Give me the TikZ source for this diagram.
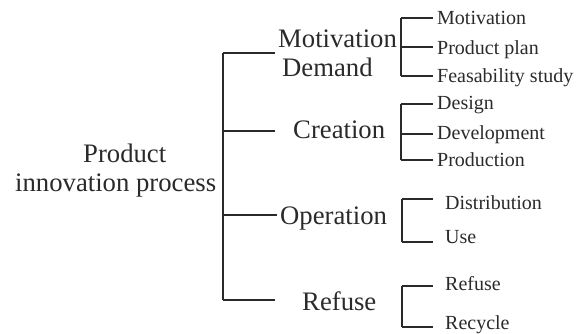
\documentclass[tikz,border=0pt]{standalone}
\usepackage{fontspec}
\setmainfont{Liberation Serif}
\definecolor{ink}{HTML}{2A2A2A}
\tikzset{
	bar/.style={line width=2.2pt,draw=ink},
	subbar/.style={line width=1.9pt,draw=ink},
	big/.style={font=\fontsize{26.7}{29}\selectfont,text=ink,inner sep=0pt},
	small/.style={font=\fontsize{20}{22}\selectfont,text=ink,inner sep=0pt}
}
\begin{document}
\begin{tikzpicture}[x=1pt,y=-1pt]
	\useasboundingbox (0,0) rectangle (576,334);
	\node[big,anchor=base west] (prod) at (83,163) {Product};
	\node[big,anchor=base west] (innov) at (15,192) {innovation process};
	
	\node[big,anchor=base west] (motiv) at (278,48) {Motivation};
	\node[big,anchor=base west] (demand) at (282,77) {Demand};
	\node[big,anchor=base west] (creat) at (293,139) {Creation};
	\node[big,anchor=base west] (oper) at (280,225) {Operation};
	\node[big,anchor=base west] (refuse) at (302,310) {Refuse};
	
	\node[small,anchor=base west] (smotiv) at (437,25) {Motivation};
	\node[small,anchor=base west] (plan) at (437,55) {Product plan};
	\node[small,anchor=base west] (feas) at (437,83) {Feasability study};
	\node[small,anchor=base west] (design) at (437,110) {Design};
	\node[small,anchor=base west] (devel) at (437,140) {Development};
	\node[small,anchor=base west] (produc) at (437,167) {Production};
	\node[small,anchor=base west] (distr) at (445,209) {Distribution};
	\node[small,anchor=base west] (use) at (445,243) {Use};
	\node[small,anchor=base west] (srefuse) at (445,290) {Refuse};
	\node[small,anchor=base west] (recyc) at (445,329) {Recycle};
	
	% main bracket
	\coordinate (m1) at (223,53);
	\coordinate (m2) at (223,131);
	\coordinate (m3) at (223,215);
	\coordinate (m4) at (223,300);
	\coordinate (e1) at (275,53);
	\coordinate (e2) at (275,131);
	\coordinate (e3) at (277,215);
	\coordinate (e4) at (275,300);
	\draw[bar] (m1) -- (m4);
	\draw[bar] (m1) -- (e1);
	\draw[bar] (m2) -- (e2);
	\draw[bar] (m3) -- (e3);
	\draw[bar] (m4) -- (e4);
	
	% motivation / demand
	\coordinate (a1) at (401,18);
	\coordinate (a2) at (401,47);
	\coordinate (a3) at (401,76);
	\coordinate (ta1) at (433,18);
	\coordinate (ta2) at (433,47);
	\coordinate (ta3) at (433,76);
	\draw[subbar] (a1) -- (a3);
	\draw[subbar] (a1) -- (ta1);
	\draw[subbar] (a2) -- (ta2);
	\draw[subbar] (a3) -- (ta3);
	
	% creation
	\coordinate (b1) at (401,104);
	\coordinate (b2) at (401,134);
	\coordinate (b3) at (401,160);
	\coordinate (tb1) at (433,104);
	\coordinate (tb2) at (433,134);
	\coordinate (tb3) at (433,160);
	\draw[subbar] (b1) -- (b3);
	\draw[subbar] (b1) -- (tb1);
	\draw[subbar] (b2) -- (tb2);
	\draw[subbar] (b3) -- (tb3);
	
	% operation
	\coordinate (c1) at (402,199);
	\coordinate (c2) at (402,242);
	\coordinate (tc1) at (433,199);
	\coordinate (tc2) at (433,242);
	\draw[subbar] (c1) -- (c2);
	\draw[subbar] (c1) -- (tc1);
	\draw[subbar] (c2) -- (tc2);
	
	% refuse
	\coordinate (d1) at (402,286);
	\coordinate (d2) at (402,327);
	\coordinate (td1) at (433,286);
	\coordinate (td2) at (433,327);
	\draw[subbar] (d1) -- (d2);
	\draw[subbar] (d1) -- (td1);
	\draw[subbar] (d2) -- (td2);
\end{tikzpicture}
\end{document}
